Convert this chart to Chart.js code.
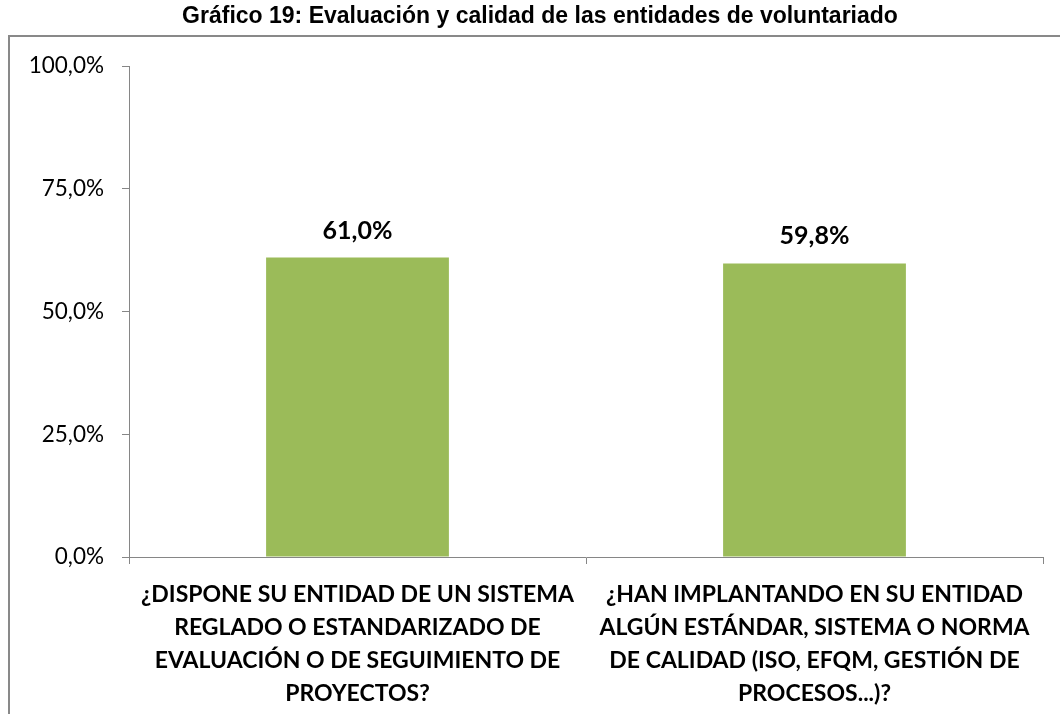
<!DOCTYPE html>
<html>
<head>
<meta charset="utf-8">
<script src="https://cdn.jsdelivr.net/npm/chart.js@4/dist/chart.umd.min.js"></script>
<style>
  html, body { margin: 0; padding: 0; background: #fff; }
  #wrap { width: 1060px; height: 714px; position: relative; }
</style>
</head>
<body>
<div id="wrap"><canvas id="chart"></canvas></div>
<script>
const TITLE = "Gráfico 19: Evaluación y calidad de las entidades de voluntariado";
const categories = [
  ["¿DISPONE SU ENTIDAD DE UN SISTEMA", "REGLADO O ESTANDARIZADO DE", "EVALUACIÓN O DE SEGUIMIENTO DE", "PROYECTOS?"],
  ["¿HAN IMPLANTANDO EN SU ENTIDAD", "ALGÚN ESTÁNDAR, SISTEMA O NORMA", "DE CALIDAD (ISO, EFQM, GESTIÓN DE", "PROCESOS...)?"]
];
const values = [61.0, 59.8];
const yTicks = [0, 25, 50, 75, 100];

const barColor = "#9BBB59";
const axisColor = "#868686";
const labelFont = "Lato, 'Open Sans', sans-serif";

const pct = (v) => v.toFixed(1).replace(".", ",") + "%";

// white background, outer frame and title
const framePlugin = {
  id: "frame",
  beforeDraw(chart) {
    const c = chart.ctx;
    c.save();
    c.fillStyle = "#fff";
    c.fillRect(0, 0, chart.width, chart.height);
    c.strokeStyle = "#898989";
    c.lineWidth = 2;
    c.beginPath();
    c.moveTo(9, chart.height);
    c.lineTo(9, 36);
    c.lineTo(chart.width, 36);
    c.stroke();
    c.fillStyle = "#000";
    c.font = "bold 23px 'Liberation Sans', Arial, sans-serif";
    c.textAlign = "center";
    c.textBaseline = "middle";
    c.fillText(TITLE, 540, 17);
    c.restore();
  }
};

// value labels above bars
const valueLabels = {
  id: "valueLabels",
  afterDatasetsDraw(chart) {
    const c = chart.ctx;
    const meta = chart.getDatasetMeta(0);
    c.save();
    c.fillStyle = "#000";
    c.font = "bold 25px " + labelFont;
    c.textAlign = "center";
    c.textBaseline = "middle";
    meta.data.forEach((bar, i) => {
      c.fillText(pct(values[i]), bar.x, bar.y - 27);
    });
    c.restore();
  }
};

new Chart(document.getElementById("chart"), {
  type: "bar",
  data: {
    labels: categories,
    datasets: [{
      data: values,
      backgroundColor: barColor,
      borderWidth: 0,
      categoryPercentage: 1,
      barPercentage: 0.4
    }]
  },
  options: {
    responsive: true,
    maintainAspectRatio: false,
    animation: false,
    devicePixelRatio: 1,
    layout: { padding: { top: 66, right: 17, left: 0, bottom: 0 } },
    plugins: { legend: { display: false }, tooltip: { enabled: false } },
    scales: {
      x: {
        grid: { display: true, drawOnChartArea: false, drawTicks: true, tickLength: 7, color: axisColor, offset: true },
        border: { display: true, color: axisColor, width: 1 },
        ticks: {
          color: "#000",
          maxRotation: 0, minRotation: 0, autoSkip: false,
          padding: 14,
          font: { family: labelFont, size: 23, weight: "bold", lineHeight: 1.43 }
        },
        afterFit(scale) { scale.height = 157; }
      },
      y: {
        min: 0, max: 100,
        afterBuildTicks(scale) { scale.ticks = yTicks.map(v => ({ value: v })); },
        grid: { display: true, drawOnChartArea: false, drawTicks: true, tickLength: 7, color: axisColor },
        border: { display: true, color: axisColor, width: 1 },
        ticks: {
          color: "#000",
          padding: 18,
          callback: (v) => pct(v),
          font: { family: labelFont, size: 22.5 }
        },
        afterFit(scale) { scale.width = 129; }
      }
    }
  },
  plugins: [framePlugin, valueLabels]
});
</script>
</body>
</html>
